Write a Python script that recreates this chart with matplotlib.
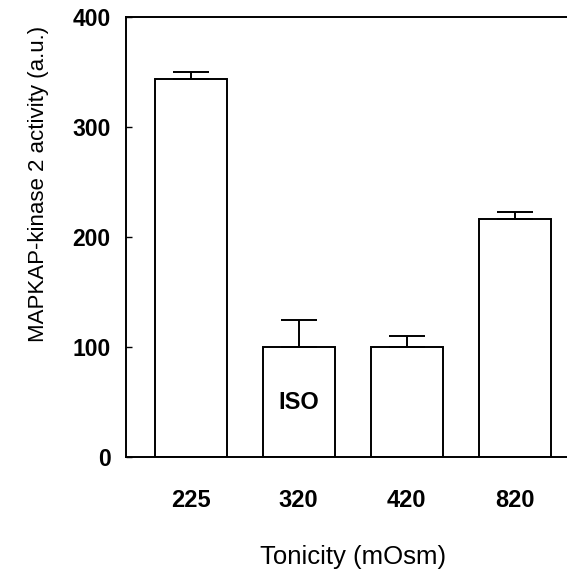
import matplotlib.pyplot as plt

plt.rcParams['font.family'] = ['Liberation Sans', 'DejaVu Sans']

tonicity = ["225", "320", "420", "820"]
activity = [343, 100, 100, 216]
sem = [7, 24, 10, 6]
iso_label = "ISO"
iso_y = 49

fig = plt.figure(figsize=(5.67, 5.72), dpi=100)
ax = fig.add_axes([0.222, 0.2016, 0.80, 0.7692])

pos = list(range(len(tonicity)))
ax.bar(pos, activity, width=0.665, color="white", edgecolor="black", linewidth=1.4,
       yerr=[[0] * len(sem), sem], capsize=13,
       error_kw=dict(elinewidth=1.4, capthick=1.4, ecolor="black"))

ax.text(pos[1], iso_y, iso_label, ha="center", va="center", fontsize=17, fontweight="bold")

ax.set_xlim(-0.6, 3.6)
ax.set_ylim(0, 400)
ax.set_yticks([0, 100, 200, 300, 400])
ax.set_xticks(pos)
ax.set_xticklabels(tonicity)
ax.tick_params(axis="y", direction="in", length=4, width=1, pad=11, labelsize=16.5)
ax.tick_params(axis="x", length=0, pad=23, labelsize=17)
for lab in ax.get_xticklabels() + ax.get_yticklabels():
    lab.set_fontweight("bold")

ax.spines["right"].set_visible(False)
for s in ["left", "top", "bottom"]:
    ax.spines[s].set_linewidth(1.4)

ax.set_xlabel("Tonicity (mOsm)", fontsize=18.5)
ax.xaxis.set_label_coords(0.5, -0.2)
ax.xaxis.label.set_va("top")
ax.set_ylabel("MAPKAP-kinase 2 activity (a.u.)", fontsize=16)
ax.yaxis.set_label_coords(-0.17, 0.62)

fig.savefig("out.png", dpi=100)
